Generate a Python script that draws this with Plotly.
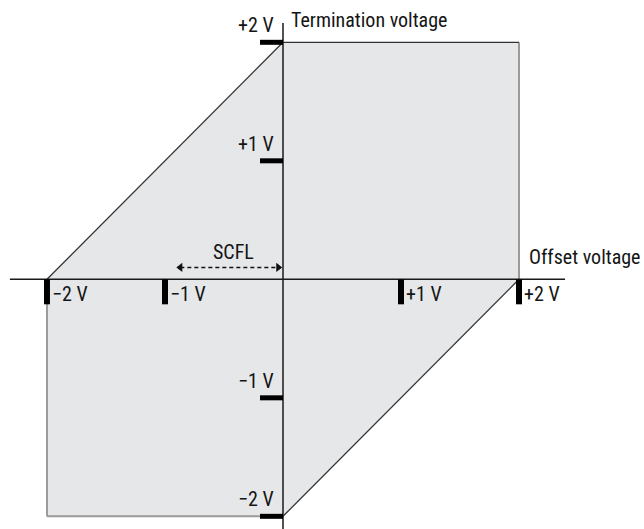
import plotly.graph_objects as go

# operating region (offset voltage, termination voltage) corners
region_x = [-2, 0, 2, 2, 0, -2, -2]
region_y = [0, 2, 2, 0, -2, -2, 0]

# which edges are drawn dark / light
dark_edges = [((-2, 0), (0, 2)), ((0, 2), (2, 2)), ((2, 0), (0, -2))]
light_edges = [((2, 2), (2, 0)), ((0, -2), (-2, -2)), ((-2, -2), (-2, 0))]

x_ticks = [-2, -1, 1, 2]
x_tick_labels = ["\u22122 V", "\u22121 V", "+1 V", "+2 V"]
y_ticks = [2, 1, -1, -2]
y_tick_labels = ["+2 V", "+1 V", "\u22121 V", "\u22122 V"]

scfl_range = [-0.87, -0.04]
scfl_level = 0.1

FONT = "Roboto Condensed, Roboto, sans-serif"
TXT = "#151515"

fig = go.Figure()

fig.add_scatter(x=region_x, y=region_y, mode="lines", fill="toself",
                fillcolor="#e6e7e9", line=dict(width=0), hoverinfo="skip")

for (a, b) in light_edges:
    fig.add_scatter(x=[a[0], b[0]], y=[a[1], b[1]], mode="lines",
                    line=dict(color="#9a9a9a", width=2), hoverinfo="skip")
for (a, b) in dark_edges:
    fig.add_scatter(x=[a[0], b[0]], y=[a[1], b[1]], mode="lines",
                    line=dict(color="#333333", width=1.3), hoverinfo="skip")

# axes
fig.add_scatter(x=[-2.314, 2.39], y=[0, 0], mode="lines",
                line=dict(color="#1a1a1a", width=1.5), hoverinfo="skip")
fig.add_scatter(x=[0, 0], y=[2.163, -2.2], mode="lines",
                line=dict(color="#1a1a1a", width=1.5), hoverinfo="skip")

# thick tick bars
for v in x_ticks:
    fig.add_shape(type="rect", xref="x", yref="y",
                  xsizemode="pixel", xanchor=v, x0=-3, x1=3,
                  ysizemode="pixel", yanchor=0, y0=-25, y1=0,
                  fillcolor="black", line=dict(width=0))
for v in y_ticks:
    fig.add_shape(type="rect", xref="x", yref="y",
                  xsizemode="pixel", xanchor=0, x0=-23, x1=0,
                  ysizemode="pixel", yanchor=v, y0=-2.5, y1=2.5,
                  fillcolor="black", line=dict(width=0))

for v, t in zip(x_ticks, x_tick_labels):
    fig.add_annotation(x=v, y=0, text=t, showarrow=False, xanchor="left",
                       yanchor="top", xshift=3, yshift=-1,
                       font=dict(family=FONT, size=20, color=TXT))
for v, t in zip(y_ticks, y_tick_labels):
    fig.add_annotation(x=0, y=v, text=t, showarrow=False, xanchor="right",
                       yanchor="bottom", xshift=-7, yshift=3,
                       font=dict(family=FONT, size=20, color=TXT))

fig.add_annotation(x=0, y=2, text="Termination voltage", showarrow=False,
                   xanchor="left", yanchor="bottom", xshift=6, yshift=8,
                   font=dict(family=FONT, size=20, color=TXT))
fig.add_annotation(x=2, y=0, text="Offset voltage", showarrow=False,
                   xanchor="left", yanchor="bottom", xshift=8, yshift=8,
                   font=dict(family=FONT, size=20, color=TXT))

# SCFL arrow
fig.add_scatter(x=scfl_range, y=[scfl_level, scfl_level], mode="lines",
                line=dict(color="#111111", width=1.5, dash="4px,3px"),
                hoverinfo="skip")
fig.add_scatter(x=scfl_range, y=[scfl_level, scfl_level], mode="markers",
                marker=dict(symbol=["triangle-left", "triangle-right"],
                            size=8, color="#111111"),
                hoverinfo="skip")
fig.add_annotation(x=sum(scfl_range) / 2, y=scfl_level, text="SCFL",
                   showarrow=False, yanchor="bottom", xshift=4, yshift=1,
                   font=dict(family=FONT, size=20, color=TXT))

fig.update_layout(
    width=644, height=529,
    margin=dict(l=0, r=0, t=0, b=0),
    plot_bgcolor="white", paper_bgcolor="white",
    showlegend=False,
    xaxis=dict(range=[-2.398, 3.059], visible=False, fixedrange=True),
    yaxis=dict(range=[-2.107, 2.357], visible=False, fixedrange=True),
)

fig.write_html("out.html", config={"displayModeBar": False},
               post_script="document.body.style.margin='0';")
